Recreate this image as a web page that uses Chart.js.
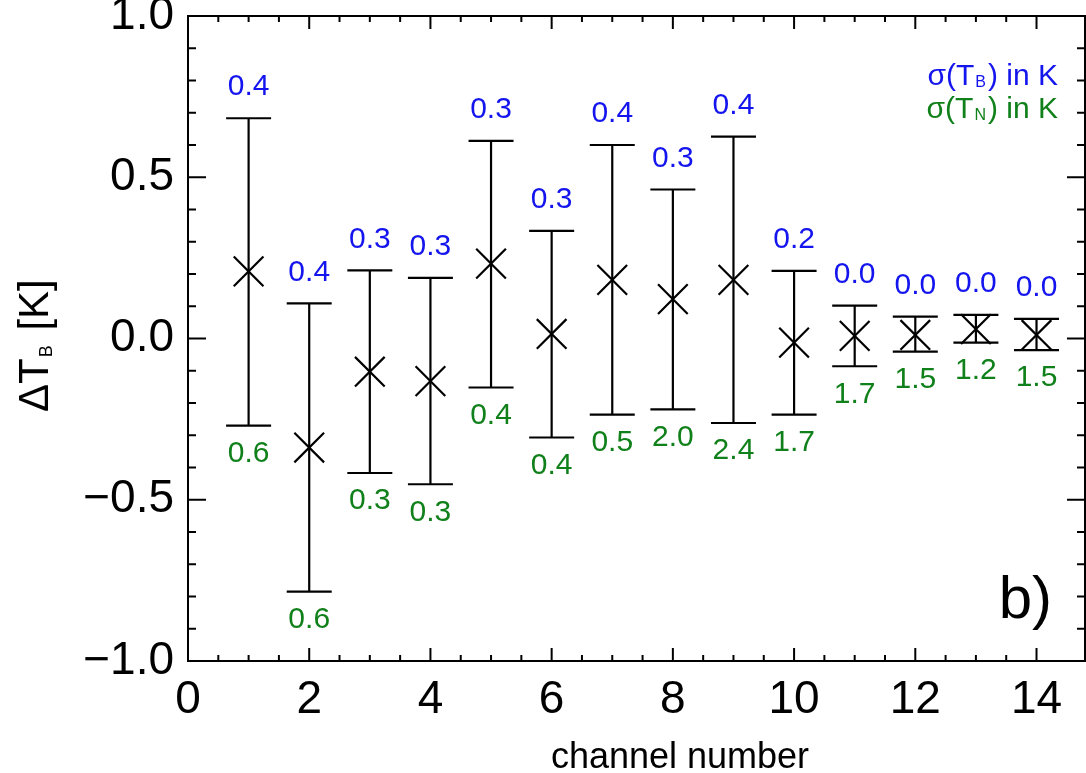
<!DOCTYPE html>
<html>
<head>
<meta charset="utf-8">
<script src="https://cdn.jsdelivr.net/npm/chart.js@4/dist/chart.umd.min.js"></script>
<style>
  body { margin: 0; background: #fff; }
  #wrap { width: 1086px; height: 773px; }
</style>
</head>
<body>
<div id="wrap"><canvas id="dtb" width="1086" height="773"></canvas></div>
<script>
// channel number vs. delta T_B, with error bars and sigma labels
const channels = [1, 2, 3, 4, 5, 6, 7, 8, 9, 10, 11, 12, 13, 14];
const deltaTb = [0.208, -0.338, -0.103, -0.132, 0.232, 0.014, 0.182, 0.122, 0.182, -0.013, 0.008, 0.011, 0.029, 0.011];
const upperTb = [0.683, 0.109, 0.211, 0.188, 0.613, 0.334, 0.600, 0.462, 0.626, 0.210, 0.102, 0.068, 0.073, 0.061];
const lowerTb = [-0.270, -0.785, -0.417, -0.452, -0.152, -0.307, -0.236, -0.220, -0.262, -0.236, -0.086, -0.041, -0.013, -0.036];
const sigmaTb = ["0.4", "0.4", "0.3", "0.3", "0.3", "0.3", "0.4", "0.3", "0.4", "0.2", "0.0", "0.0", "0.0", "0.0"];
const sigmaTn = ["0.6", "0.6", "0.3", "0.3", "0.4", "0.4", "0.5", "2.0", "2.4", "1.7", "1.7", "1.5", "1.2", "1.5"];

const FONT = "'Liberation Sans', Arial, Helvetica, sans-serif";
const BLUE = "#1414ee";
const GREEN = "#10801a";

function isMult(v, step) {
  return Math.abs(v / step - Math.round(v / step)) < 1e-6;
}

function line(ctx, x1, y1, x2, y2) {
  ctx.beginPath();
  ctx.moveTo(x1, y1);
  ctx.lineTo(x2, y2);
  ctx.stroke();
}

// error bars + sigma numbers
const errorBars = {
  id: "errorBars",
  beforeDatasetsDraw(chart) {
    const { ctx, scales: { x, y } } = chart;
    ctx.save();
    ctx.strokeStyle = "#000";
    ctx.lineWidth = 2.2;
    channels.forEach((c, i) => {
      const px = x.getPixelForValue(c);
      const top = y.getPixelForValue(upperTb[i]);
      const bot = y.getPixelForValue(lowerTb[i]);
      line(ctx, px, top, px, bot);
      line(ctx, px - 22.5, top, px + 22.5, top);
      line(ctx, px - 22.5, bot, px + 22.5, bot);

      ctx.font = "30px " + FONT;
      ctx.textAlign = "center";
      ctx.textBaseline = "middle";
      ctx.fillStyle = BLUE;
      ctx.fillText(sigmaTb[i], px, top - 31);
      ctx.fillStyle = GREEN;
      ctx.fillText(sigmaTn[i], px, bot + 28);
    });
    ctx.restore();
  }
};

// box, inward ticks on all four sides, axis titles and legend text
const frame = {
  id: "frame",
  afterDraw(chart) {
    const { ctx, chartArea: a, scales: { x, y } } = chart;
    ctx.save();
    ctx.strokeStyle = "#000";
    ctx.lineWidth = 2;
    ctx.strokeRect(a.left, a.top, a.right - a.left, a.bottom - a.top);

    x.ticks.forEach((t) => {
      if (!isMult(t.value, 0.5)) return;
      const len = isMult(t.value, 2) ? 13 : 6;
      const px = x.getPixelForValue(t.value);
      line(ctx, px, a.bottom, px, a.bottom - len);
      line(ctx, px, a.top, px, a.top + len);
    });
    y.ticks.forEach((t) => {
      const len = isMult(t.value, 0.5) ? 18 : 8;
      const py = y.getPixelForValue(t.value);
      line(ctx, a.left, py, a.left + len, py);
      line(ctx, a.right, py, a.right - len, py);
    });

    // x axis title
    ctx.fillStyle = "#000";
    ctx.font = "36px " + FONT;
    ctx.textAlign = "center";
    ctx.textBaseline = "alphabetic";
    ctx.fillText("channel number", 680, 768);

    // y axis title: ΔT_B [K]
    ctx.save();
    ctx.translate(48, 412);
    ctx.rotate(-Math.PI / 2);
    ctx.textAlign = "left";
    ctx.font = "42px " + FONT;
    ctx.fillText("ΔT", 0, 0);
    let w = ctx.measureText("ΔT").width;
    ctx.font = "18px " + FONT;
    ctx.fillText("B", w + 1, 4);
    w += ctx.measureText("B").width + 4;
    ctx.font = "42px " + FONT;
    ctx.fillText(" [K]", w, 0);
    ctx.restore();

    // legend lines, right aligned
    drawSub(ctx, "σ(T", "B", ") in K", 1058, 85, BLUE);
    drawSub(ctx, "σ(T", "N", ") in K", 1058, 118, GREEN);

    // panel tag
    ctx.fillStyle = "#000";
    ctx.font = "60px " + FONT;
    ctx.textAlign = "right";
    ctx.textBaseline = "alphabetic";
    ctx.fillText("b)", 1052, 618);
    ctx.restore();
  }
};

function drawSub(ctx, pre, sub, post, right, base, color) {
  ctx.save();
  ctx.fillStyle = color;
  ctx.textAlign = "left";
  ctx.textBaseline = "alphabetic";
  const big = "30px " + FONT;
  const small = "16px " + FONT;
  ctx.font = big;
  const w1 = ctx.measureText(pre).width;
  const w3 = ctx.measureText(post).width;
  ctx.font = small;
  const w2 = ctx.measureText(sub).width + 3;
  let xx = right - (w1 + w2 + w3);
  ctx.font = big;
  ctx.fillText(pre, xx, base);
  xx += w1;
  ctx.font = small;
  ctx.fillText(sub, xx + 1, base + 2);
  xx += w2;
  ctx.font = big;
  ctx.fillText(post, xx, base);
  ctx.restore();
}

new Chart("dtb", {
  type: "scatter",
  data: {
    datasets: [
      {
        data: channels.map((c, i) => ({ x: c, y: deltaTb[i] })),
        pointStyle: "crossRot",
        pointRadius: 21,
        pointHoverRadius: 21,
        borderColor: "#000",
        backgroundColor: "#000",
        borderWidth: 2.2,
        showLine: false,
      },
    ],
  },
  options: {
    responsive: false,
    animation: false,
    events: [],
    layout: { autoPadding: false, padding: { top: 16, right: 1, left: 0, bottom: 0 } },
    plugins: {
      legend: { display: false },
      tooltip: { enabled: false },
    },
    scales: {
      x: {
        type: "linear",
        min: 0,
        max: 14.8,
        grid: { display: false, drawTicks: false },
        border: { display: false },
        afterFit: (s) => {
          s.height = 112;
          s.paddingLeft = 0;
          s.paddingRight = 0;
        },
        ticks: {
          stepSize: 0.5,
          autoSkip: false,
          maxRotation: 0,
          padding: 12,
          color: "#000",
          font: { family: FONT, size: 46 },
          callback: (v) => (isMult(v, 2) ? String(Math.round(v)) : ""),
        },
      },
      y: {
        min: -1,
        max: 1,
        grid: { display: false, drawTicks: false },
        border: { display: false },
        afterFit: (s) => {
          s.width = 188;
          s.paddingTop = 0;
          s.paddingBottom = 0;
        },
        ticks: {
          stepSize: 0.1,
          autoSkip: false,
          padding: 14,
          color: "#000",
          font: { family: FONT, size: 46 },
          callback: (v) => {
            if (!isMult(v, 0.5)) return "";
            const s = Math.abs(v).toFixed(1);
            return v < -1e-6 ? "\u2212" + s : s;
          },
        },
      },
    },
  },
  plugins: [errorBars, frame],
});
</script>
</body>
</html>
